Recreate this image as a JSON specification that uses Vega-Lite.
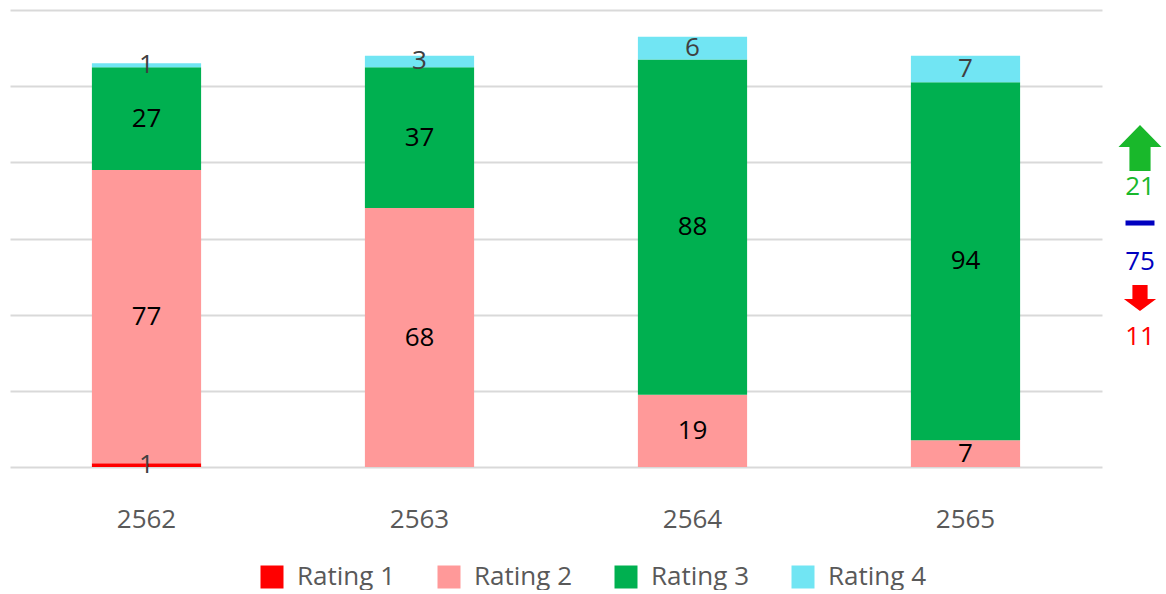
{
  "$schema": "https://vega.github.io/schema/vega-lite/v6.json",
  "padding": {"left": 10, "top": 10, "right": 0, "bottom": 0},
  "background": "white",
  "config": {"view": {"stroke": null}, "font": "Open Sans", "concat": {"spacing": 10}},
  "resolve": {"scale": {"color": "independent", "y": "independent", "shape": "independent"}, "legend": {"color": "independent"}},
  "hconcat": [
    {
      "width": 1092,
      "height": 457,
      "data": {"values": [
        {"year": "2562", "series": "Rating 1", "value": 1},
        {"year": "2562", "series": "Rating 2", "value": 77},
        {"year": "2562", "series": "Rating 3", "value": 27},
        {"year": "2562", "series": "Rating 4", "value": 1},
        {"year": "2563", "series": "Rating 2", "value": 68},
        {"year": "2563", "series": "Rating 3", "value": 37},
        {"year": "2563", "series": "Rating 4", "value": 3},
        {"year": "2564", "series": "Rating 2", "value": 19},
        {"year": "2564", "series": "Rating 3", "value": 88},
        {"year": "2564", "series": "Rating 4", "value": 6},
        {"year": "2565", "series": "Rating 2", "value": 7},
        {"year": "2565", "series": "Rating 3", "value": 94},
        {"year": "2565", "series": "Rating 4", "value": 7}
      ]},
      "encoding": {
        "x": {
          "field": "year", "type": "nominal",
          "scale": {"paddingInner": 0.6, "paddingOuter": 0.3},
          "axis": {"title": null, "labelAngle": 0, "domain": false, "ticks": false, "labelPadding": 39, "labelFontSize": 26, "labelColor": "#595959", "labelFont": "Open Sans"}
        }
      },
      "layer": [
        {
          "mark": {"type": "bar"},
          "encoding": {
            "y": {
              "field": "value", "type": "quantitative", "stack": "zero",
              "scale": {"domain": [0, 120]},
              "axis": {"title": null, "labels": false, "ticks": false, "domain": false, "grid": true, "gridColor": "#D9D9D9", "gridWidth": 2, "values": [0, 20, 40, 60, 80, 100, 120]}
            },
            "color": {
              "field": "series", "type": "nominal",
              "scale": {"domain": ["Rating 1", "Rating 2", "Rating 3", "Rating 4"], "range": ["#FF0000", "#FF9999", "#00B050", "#71E5F3"]},
              "legend": {
                "title": null, "orient": "none", "legendX": 249, "legendY": 554, "direction": "horizontal",
                "symbolType": "square", "symbolSize": 529, "symbolStrokeWidth": 0, "symbolOpacity": 1,
                "labelFontSize": 26, "labelColor": "#595959", "labelFont": "Open Sans", "labelOffset": 12, "columnPadding": 40, "labelLimit": 400
              }
            },
            "order": {"field": "series", "sort": "ascending"}
          }
        },
        {
          "mark": {"type": "text", "fontSize": 26, "baseline": "middle"},
          "encoding": {
            "y": {"field": "value", "type": "quantitative", "stack": "zero", "bandPosition": 0.5},
            "detail": {"field": "series"},
            "order": {"field": "series", "sort": "ascending"},
            "text": {"field": "value", "type": "quantitative"},
            "color": {"condition": {"test": "datum.series === 'Rating 1' || datum.series === 'Rating 4'", "value": "#404040"}, "value": "#000000"}
          }
        }
      ]
    },
    {
      "width": 56,
      "height": 457,
      "data": {"values": [
        {"trend": "up", "change": 21},
        {"trend": "same", "change": 75},
        {"trend": "down", "change": 11}
      ]},
      "encoding": {
        "y": {"field": "trend", "type": "nominal", "scale": {"type": "point", "domain": ["up", "same", "down"], "range": [158, 308], "padding": 0}, "axis": null},
        "color": {"field": "trend", "type": "nominal", "scale": {"domain": ["up", "same", "down"], "range": ["#19B82B", "#0000C0", "#FF0000"]}, "legend": null}
      },
      "layer": [
        {
          "mark": {"type": "point", "filled": true, "size": 2116, "yOffset": -20, "opacity": 1, "strokeWidth": 0},
          "encoding": {
            "shape": {
              "field": "trend", "type": "nominal",
              "scale": {"domain": ["up", "same", "down"], "range": [
                "M0,-1L0.935,-0.04L0.46,-0.04L0.46,1L-0.46,1L-0.46,-0.04L-0.935,-0.04Z",
                "M-0.63,-0.11L0.63,-0.11L0.63,0.11L-0.63,0.11Z",
                "M-0.33,-0.565L0.33,-0.565L0.33,0.04L0.7,0.04L0,0.565L-0.7,0.04L-0.33,0.04Z"
              ]},
              "legend": null
            }
          }
        },
        {
          "mark": {"type": "text", "fontSize": 26, "dy": 19, "baseline": "middle"},
          "encoding": {"text": {"field": "change", "type": "quantitative"}}
        }
      ]
    }
  ]
}
